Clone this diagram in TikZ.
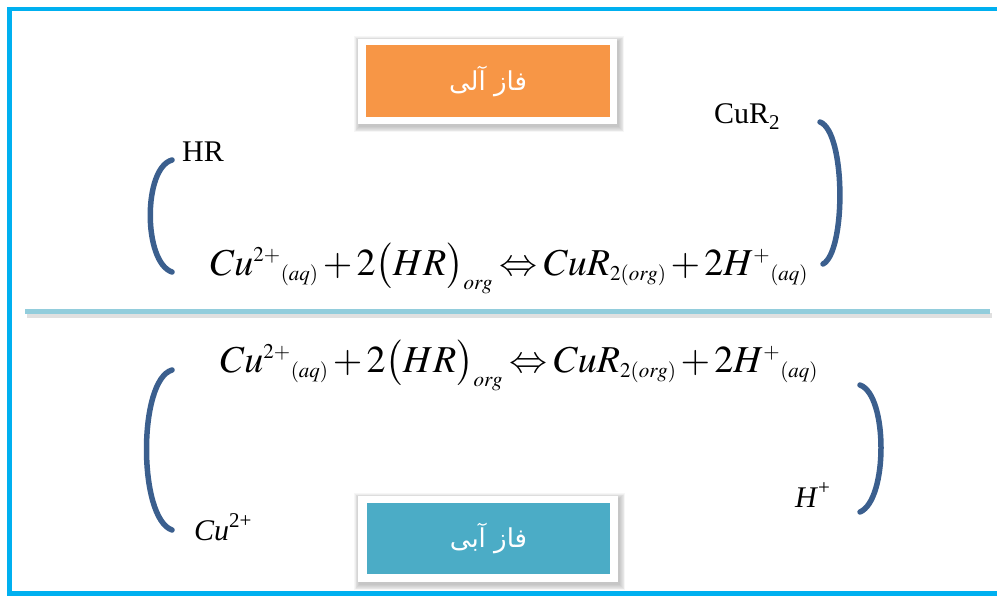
\documentclass[tikz,border=0pt]{standalone}
\usepackage{mathptmx}
\usepackage{fontspec}
\TeXXeTstate=1
\newfontfamily\arabicfont[Script=Arabic]{DejaVu Sans}
\newfontfamily\labelserif{Liberation Serif}

\definecolor{frameblue}{HTML}{00B0F0}
\definecolor{sepblue}{HTML}{92CDDC}
\definecolor{orgorange}{HTML}{F79646}
\definecolor{aqteal}{HTML}{4BACC6}
\definecolor{bracketblue}{HTML}{3B5F8E}

% large equation: small scripts, tight operator spacing
\DeclareMathSizes{38}{38}{21}{16}
\newcommand{\reaction}{%
  \medmuskip=2mu plus 1mu\thickmuskip=3mu plus 2mu
  $Cu^{2+}{}_{(aq)} + 2\bigl(HR\bigr)_{org} \Leftrightarrow CuR_{2(org)} + 2H^{+}{}_{(aq)}$}
% raised index in the species labels
\newcommand{\upidx}[1]{\raisebox{0.42em}{\fontsize{21}{24}\selectfont #1}}

\tikzset{
  phasebox/.style={inner sep=0pt, text=white,
    font=\arabicfont\fontsize{26}{30}\selectfont},
  eqtext/.style={inner sep=0pt, font=\fontsize{38}{44}\selectfont},
  labeltext/.style={inner sep=0pt, font=\labelserif\fontsize{30}{34}\selectfont},
  brace/.style={draw=bracketblue, line width=5.5pt, line cap=round},
}
% soft shadow behind a white-rimmed box: x1, y1, x2, y2 of the rim
\newcommand{\softshadow}[4]{%
  \foreach \s in {1,...,7}{
    \fill[black, opacity=.035] (#1-\s*0.8+1.5,#2-\s*0.8+2.5) rectangle (#3+\s*0.8+1.5,#4+\s*0.8+2.5);
  }}

\begin{document}
\begin{tikzpicture}[x=1pt,y=-1pt]
\useasboundingbox (0,0) rectangle (998,595);

% outer frame, open on the right
\draw[frameblue, line width=4.5pt] (997,9) -- (9.5,9) -- (9.5,593.5) -- (997,593.5);

% phase separator with soft shadow
\draw[black!40, opacity=.3, line width=5pt] (27,315.5) -- (992,315.5);
\draw[sepblue, line width=5pt] (25,311.5) -- (990,311.5);

% organic phase label
\softshadow{358}{39}{617}{124}
\node[fill=white, inner sep=0pt, minimum width=259pt, minimum height=85pt] (orgrim) at (487.5,81.5) {};
\node[phasebox, fill=orgorange, minimum width=244pt, minimum height=72pt] (org) at (488,81) {\beginR فاز آلی\endR};

% aqueous phase label
\softshadow{358}{496}{618}{582}
\node[fill=white, inner sep=0pt, minimum width=260pt, minimum height=86pt] (aqrim) at (488,539) {};
\node[phasebox, fill=aqteal, minimum width=243pt, minimum height=71pt] (aq) at (488.5,538.5) {\beginR فاز آبی\endR};

% extraction equilibrium, organic side
\node[eqtext, anchor=base west] (eqtop) at (210,275) {\reaction};
% extraction equilibrium, aqueous side
\node[eqtext, anchor=base west] (eqbot) at (220,372) {\reaction};

% species labels
\node[labeltext, anchor=base west] (hr) at (182,161) {HR};
\node[labeltext, anchor=base west] (cur) at (714,123) {CuR\raisebox{-0.22em}{\fontsize{21}{24}\selectfont 2}};
\node[labeltext, anchor=base west] (cu) at (194,540) {\textit{Cu}\upidx{2+}};
\node[labeltext, anchor=base west] (hplus) at (795,507) {\textit{H}\upidx{+}};

% curved brackets
\draw[brace] (172,160) .. controls (143,168) and (143,262) .. (172,272);
\draw[brace] (820,122) .. controls (846,132) and (846,252) .. (823,264);
\draw[brace] (172,370) .. controls (138,380) and (138,518) .. (172,530);
\draw[brace] (860,385) .. controls (888,395) and (888,500) .. (860,512);
\end{tikzpicture}
\end{document}
